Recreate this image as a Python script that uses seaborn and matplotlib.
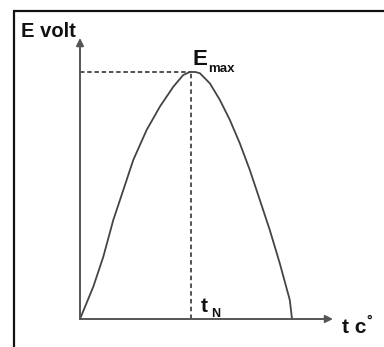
import seaborn as sns
from matplotlib import pyplot as plt
from matplotlib.lines import Line2D

# curve (E normalised to Emax = 1, t normalised to tN = 1)
t_vals = [0.0, 0.12, 0.21, 0.30, 0.39, 0.48, 0.60, 0.72, 0.84, 0.93, 0.99, 1.04,
          1.08, 1.17, 1.26, 1.35, 1.44, 1.53, 1.62, 1.71, 1.80, 1.89, 1.91]
e_vals = [0.0, 0.131, 0.252, 0.401, 0.522, 0.644, 0.765, 0.860, 0.940, 0.988, 1.0, 1.0,
          0.995, 0.954, 0.887, 0.806, 0.711, 0.603, 0.482, 0.360, 0.225, 0.077, 0.0]
t_n = 1.0
e_max = 1.0
y_label = 'E volt'
x_label = 't c'

sns.set_style('white')
plt.rcParams['font.family'] = ['Liberation Sans', 'DejaVu Sans']

fig = plt.figure(figsize=(3.84, 3.47), dpi=100)
ax = fig.add_axes([0, 0, 1, 1])
# origin of the sketch at pixel (80, 319); 111 px per t unit, 247 px per E unit
ax.set_xlim(-80 / 111, (384 - 80) / 111)
ax.set_ylim(-(347 - 319) / 247, 319 / 247)
ax.axis('off')

# frame (only top and left edges show)
fig.add_artist(Line2D([14 / 384, 1], [1 - 11 / 347, 1 - 11 / 347], color='#111111', lw=1.6))
fig.add_artist(Line2D([14 / 384, 14 / 384], [0, 1 - 11 / 347], color='#111111', lw=1.6))

axis_col = '#555555'
ax.annotate('', xy=(0, (319 - 38) / 247), xytext=(0, 0),
            arrowprops=dict(arrowstyle='-|>', color=axis_col, lw=1.4, mutation_scale=11,
                            shrinkA=0, shrinkB=0))
ax.annotate('', xy=((333 - 80) / 111, 0), xytext=(0, 0),
            arrowprops=dict(arrowstyle='-|>', color=axis_col, lw=1.4, mutation_scale=11,
                            shrinkA=0, shrinkB=0))

# dashed guides to the peak
ax.plot([0, t_n], [e_max, e_max], color='#444444', lw=1.3, ls=(0, (2.5, 1.5)))
ax.plot([t_n, t_n], [0, e_max], color='#444444', lw=1.3, ls=(0, (2.5, 1.8)))

sns.lineplot(x=t_vals, y=e_vals, sort=False, ax=ax, color='#444444', lw=1.3)

txt = dict(fontweight='bold', ha='left', va='baseline', color='#111111')
# labels
ax.text(21 / 384, 1 - 37 / 347, y_label, transform=fig.transFigure, fontsize=14.5, **txt)
e_txt = ax.text(t_n + 0.01, e_max + 0.03, 'E', fontsize=16, **txt)
ax.annotate('max', xy=(1, 0), xycoords=e_txt, xytext=(0.5, -2),
            textcoords='offset points', fontsize=9.5, **txt)
t_txt = ax.text(t_n + 0.09, 0.028, 't', fontsize=15, **txt)
ax.annotate('N', xy=(1, 0), xycoords=t_txt, xytext=(2.5, -1),
            textcoords='offset points', fontsize=9, **txt)
c_txt = ax.text((342 - 80) / 111, -(333 - 319) / 247, x_label, fontsize=15, **txt)
ax.annotate('°', xy=(1, 1), xycoords=c_txt, xytext=(0, -5),
            textcoords='offset points', fontsize=10, **txt)

fig.savefig('out.png', dpi=100)
